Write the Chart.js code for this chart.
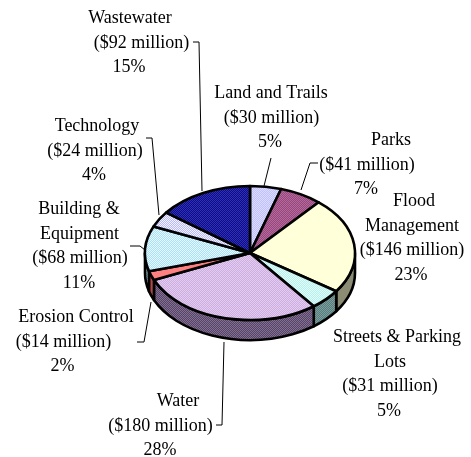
<!DOCTYPE html>
<html>
<head>
<meta charset="utf-8">
<title>Capital projects by category</title>
<script src="https://cdn.jsdelivr.net/npm/chart.js@4"></script>
<style>
    html, body { margin: 0; padding: 0; background: #fff; }
    canvas { display: block; }
</style>
</head>
<body>
<canvas id="pieChart" width="471" height="457"></canvas>
<script>
// Slices, clockwise from twelve o'clock
const categories = ['Land and Trails', 'Parks', 'Flood Management', 'Streets & Parking Lots', 'Water',
    'Erosion Control', 'Building & Equipment', 'Technology', 'Wastewater'];
const millions = [30, 41, 146, 31, 180, 14, 68, 24, 92];
const percents = [5, 7, 23, 5, 28, 2, 11, 4, 15];

// Text lines for the name part of every label
const nameLines = [['Land and Trails'], ['Parks'], ['Flood', 'Management'], ['Streets & Parking', 'Lots'], ['Water'],
    ['Erosion Control'], ['Building &', 'Equipment'], ['Technology'], ['Wastewater']];

// Label blocks: first baseline, then the centre x of each line
const labelSpots = [
    [98, [271, 271.5, 270]],
    [145, [391, 367, 366]],
    [206, [414, 412, 412, 411]],
    [342, [397, 390, 390, 389]],
    [406, [178, 160.5, 160]],
    [322, [76, 63.5, 62.5]],
    [214, [79, 79.5, 80, 79]],
    [131, [97, 95, 94]],
    [23, [130, 141.5, 129]]
];

// Leader lines from label to pie edge
const leaders = [
    [[271, 158], [264, 186]],
    [[318, 163], [310, 163], [301, 190]],
    null,
    null,
    [[216, 425], [222, 425], [224, 342]],
    [[137, 342], [144, 342], [151, 302]],
    [[130, 246], [140, 246], [145, 250]],
    [[146, 138], [152, 138], [159, 215]],
    [[193, 42], [199, 42], [202, 191]]
];

const squash = 67 / 105;   // ellipse height / width of the tilted pie
const depth = 20;          // thickness of the side wall
const lineHeight = 24.7;

function dither(a, b) {
    const tile = document.createElement('canvas');
    tile.width = tile.height = 2;
    const c = tile.getContext('2d');
    c.fillStyle = a;
    c.fillRect(0, 0, 2, 2);
    c.fillStyle = b;
    c.fillRect(0, 0, 1, 1);
    c.fillRect(1, 1, 1, 1);
    return document.createElement('canvas').getContext('2d').createPattern(tile, 'repeat');
}

// Solid slice colours, and the dotted fills laid over them
const topColors = ['#cecefe', '#a65a8c', '#ffffd9', '#ccf6f2', '#d8bde8', '#ff8080', '#c8ecfb', '#d6d6ff', '#1e1e9e'];
const topFills = [
    dither('#c0c0ff', '#dcdcff'),
    dither('#9c4480', '#b06c98'),
    '#ffffd9',
    dither('#b8f0ec', '#e0fbf8'),
    dither('#ccaee0', '#e4ccf0'),
    '#ff8080',
    dither('#a8e0f8', '#e8f8ff'),
    dither('#b8b8ff', '#f4f4ff'),
    dither('#0c0c88', '#3030b4')
];

const wallColors = [
    '#807ca0', '#80406a', '#8c8c74', dither('#567c7c', '#7c9e9e'), dither('#54446a', '#84708e'),
    '#b04848', dither('#6e9090', '#90b0b0'), '#80809c', '#10105c'
];

const tiltedPie = {
    id: 'tiltedPie',
    beforeDatasetsDraw(chart) {
        const ctx = chart.ctx;
        const arcs = chart.getDatasetMeta(0).data;
        const cy = arcs[0].y;
        // side wall: only the front half of the rim shows
        arcs.forEach((arc, i) => {
            const from = Math.max(arc.startAngle, 0);
            const to = Math.min(arc.endAngle, Math.PI);
            if (to <= from) return;
            const rx = arc.outerRadius, ry = rx * squash;
            ctx.save();
            ctx.beginPath();
            ctx.ellipse(arc.x, arc.y, rx, ry, 0, from, to);
            ctx.ellipse(arc.x, arc.y + depth, rx, ry, 0, to, from, true);
            ctx.closePath();
            ctx.fillStyle = wallColors[i];
            ctx.fill();
            ctx.lineWidth = 2.6;
            ctx.strokeStyle = '#000';
            ctx.lineJoin = 'round';
            ctx.stroke();
            ctx.restore();
        });
        ctx.save();
        ctx.translate(0, cy);
        ctx.scale(1, squash);
        ctx.translate(0, -cy);
    },
    afterDatasetsDraw(chart) {
        const ctx = chart.ctx;
        ctx.restore();
        const arcs = chart.getDatasetMeta(0).data;
        // dots and outlines go on unsquashed, for square dots and an even pen width
        ctx.save();
        ctx.lineWidth = 2.6;
        ctx.strokeStyle = '#000';
        ctx.lineJoin = 'round';
        arcs.forEach((arc, i) => {
            ctx.beginPath();
            ctx.moveTo(arc.x, arc.y);
            ctx.ellipse(arc.x, arc.y, arc.outerRadius, arc.outerRadius * squash, 0, arc.startAngle, arc.endAngle);
            ctx.closePath();
            ctx.fillStyle = topFills[i];
            ctx.fill();
            ctx.stroke();
        });
        ctx.restore();
    },
    afterDraw(chart) {
        const ctx = chart.ctx;
        ctx.save();
        ctx.lineWidth = 1;
        ctx.strokeStyle = '#000';
        leaders.forEach(pts => {
            if (!pts) return;
            ctx.beginPath();
            pts.forEach((p, i) => i ? ctx.lineTo(p[0], p[1]) : ctx.moveTo(p[0], p[1]));
            ctx.stroke();
        });
        ctx.fillStyle = '#000';
        ctx.font = '18px "Liberation Serif", serif';
        ctx.textAlign = 'center';
        ctx.textBaseline = 'alphabetic';
        categories.forEach((name, i) => {
            const lines = nameLines[i].concat('($' + millions[i] + ' million)', percents[i] + '%');
            const [baseline, centres] = labelSpots[i];
            lines.forEach((line, k) => {
                ctx.fillText(line, centres[k], baseline + k * lineHeight);
            });
        });
        ctx.restore();
    }
};

const ctx = document.getElementById('pieChart').getContext('2d');
new Chart(ctx, {
    type: 'pie',
    data: {
        labels: categories,
        datasets: [{
            data: millions,
            backgroundColor: topColors,
            borderWidth: 0
        }]
    },
    options: {
        responsive: false,
        animation: false,
        layout: { padding: { left: 145, right: 116, top: 148, bottom: 99 } },
        plugins: {
            legend: { display: false },
            tooltip: { enabled: false }
        }
    },
    plugins: [tiltedPie]
});
</script>
</body>
</html>
